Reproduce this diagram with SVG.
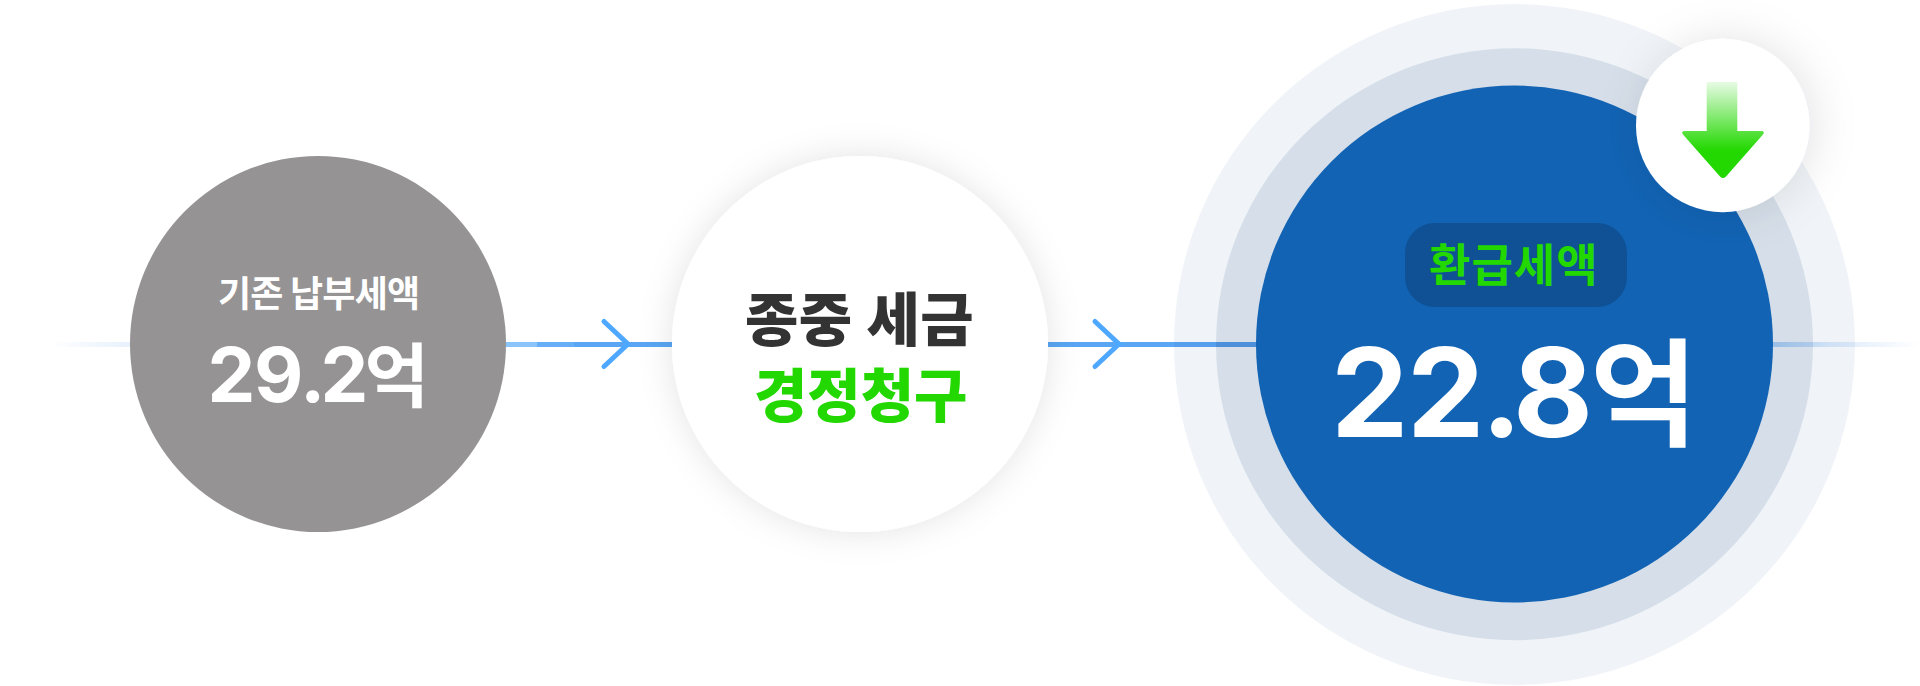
<svg xmlns="http://www.w3.org/2000/svg" width="1920" height="686" viewBox="0 0 1920 686">
<style>
text{font-family:"Noto Sans CJK KR","Noto Sans",sans-serif;font-weight:700}
.num{font-family:Inter,"Noto Sans CJK KR",sans-serif;font-weight:700}
.heavy{font-weight:900}
.w{fill:#fff}.g{fill:#22d800}.d{fill:#333}
.chev{fill:none;stroke:#4fa8ff;stroke-width:5;stroke-linecap:round;stroke-linejoin:round}
</style>
<defs>
<linearGradient id="fl" x1="0" x2="1" y1="0" y2="0"><stop offset="0" stop-color="#e4effc" stop-opacity="0"/><stop offset="1" stop-color="#e4effc"/></linearGradient>
<linearGradient id="fr" x1="0" x2="1" y1="0" y2="0"><stop offset="0" stop-color="#4d94e6" stop-opacity=".45"/><stop offset=".4" stop-color="#4d94e6" stop-opacity=".2"/><stop offset="1" stop-color="#4d94e6" stop-opacity="0"/></linearGradient>
<linearGradient id="ar" gradientUnits="userSpaceOnUse" x1="0" x2="0" y1="80" y2="178"><stop offset="0" stop-color="#22d800" stop-opacity=".08"/><stop offset=".72" stop-color="#22d800"/></linearGradient>
<filter id="s1" x="-25%" y="-25%" width="150%" height="150%"><feDropShadow dx="0" dy="0" stdDeviation="17" flood-color="#000" flood-opacity=".11"/></filter>
<filter id="s2" x="-50%" y="-50%" width="200%" height="200%"><feDropShadow dx="5" dy="0" stdDeviation="22" flood-color="#223" flood-opacity=".11"/></filter>
</defs>
<g id="connectors-back">
<rect x="50" y="342" width="90" height="5" fill="url(#fl)"/>
</g>
<g id="node-refund">
<ellipse cx="1514.500" cy="344.500" rx="340.500" ry="340.500" fill="#f0f4f8"/>
<ellipse cx="1514.500" cy="344.200" rx="298.500" ry="296" fill="#d6dfe9"/>
</g>
<g id="connectors">
<rect x="506" y="342" width="166" height="5" fill="#58a6f4"/>
<rect x="506" y="342" width="31" height="5" fill="#8ac4fb"/>
<rect x="537" y="342" width="37" height="5" fill="#66aff6"/>
<path class="chev" d="M604 321.500L628 344L604 366.500"/>
<rect x="1047" y="342" width="127" height="5" fill="#58a6f4"/>
<rect x="1174" y="342" width="42" height="5" fill="#559fec"/>
<rect x="1216" y="342" width="42" height="5" fill="#4c8fdb"/>
<path class="chev" d="M1095 321.500L1119 344L1095 366.500"/>
<rect x="1770" y="342" width="150" height="5" fill="url(#fr)"/>
</g>
<g id="node-existing">
<circle cx="318" cy="344" r="188" fill="#959394"/>
<text class="w" x="218" y="307" font-size="36" letter-spacing="-.8">기존 납부세액</text>
<text class="w num" x="207.500 254 300 320.500" y="401.500" font-size="76">29.2<tspan x="364.500" font-size="70">억</tspan></text>
</g>
<g id="node-tax">
<circle cx="860" cy="344" r="188" fill="#fff" filter="url(#s1)"/>
<text class="d heavy" x="745" y="340.500" font-size="58" letter-spacing=".5">종중 세금</text>
<text class="g heavy" x="754" y="417" font-size="58" letter-spacing="0">경정청구</text>
</g>
<g id="node-refund-core">
<circle cx="1514.500" cy="344" r="258.500" fill="#1263b4"/>
<rect x="1405" y="223" width="222" height="84" rx="30" fill="#0f5194"/>
<text class="g" x="1429" y="282" font-size="45" letter-spacing="1">환급세액</text>
<text class="w num" x="1331 1407 1481 1513" y="436.500" font-size="123">22.8<tspan x="1590" font-size="117">억</tspan></text>
</g>
<g id="node-down">
<circle cx="1722.700" cy="125.500" r="86.700" fill="#fff" filter="url(#s2)"/>
<path fill="url(#ar)" d="M1706.700 82H1737.300V131H1761Q1765.500 131 1763 134.500L1726 176.500Q1723 179.500 1720 176.500L1683 134.500Q1680.500 131 1685 131H1706.700Z"/>
</g>
</svg>
